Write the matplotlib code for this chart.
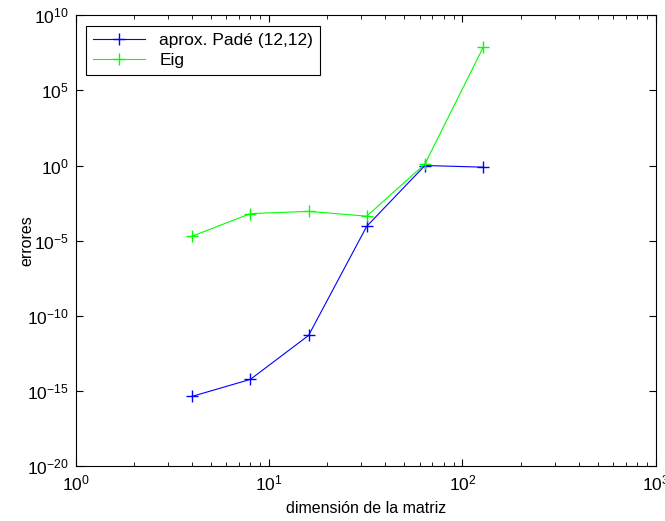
import numpy as np
import matplotlib
matplotlib.use('Agg')
import matplotlib.pyplot as plt
from matplotlib.ticker import LogLocator, NullLocator, FixedLocator

plt.rcParams['font.family'] = ['Liberation Sans', 'DejaVu Sans']
plt.rcParams['mathtext.fontset'] = 'custom'
plt.rcParams['mathtext.rm'] = 'Liberation Sans'

# Data
n = [4, 8, 16, 32, 64, 128]
err_pade = [10**-15.35, 10**-14.22, 10**-11.3, 10**-4.04, 10**0.0, 10**-0.11]
err_eig = [10**-4.7, 10**-3.2, 10**-3.05, 10**-3.37, 10**0.1, 10**7.85]

fig = plt.figure(figsize=(6.65, 5.21), dpi=100)
ax = fig.add_axes([0.114, 0.105, 0.872, 0.866])

ax.loglog(n, err_pade, color='#0000ff', marker='+', markersize=9, lw=0.8,
          mew=1.0, label='aprox. Padé (12,12)')
ax.loglog(n, err_eig, color='#00ff00', marker='+', markersize=9, lw=0.8,
          mew=1.0, label='Eig')

ax.set_xlim(1, 1000)
ax.set_ylim(1e-20, 1e10)
ax.yaxis.set_major_locator(FixedLocator([10.0**k for k in range(-20, 11, 5)]))
ax.yaxis.set_minor_locator(NullLocator())
ax.xaxis.set_major_locator(FixedLocator([1, 10, 100, 1000]))
ax.xaxis.set_minor_locator(LogLocator(base=10, subs=np.arange(2, 10), numticks=20))

ax.tick_params(which='both', direction='in', top=True, right=True, labelsize=12.5)
ax.tick_params(which='major', length=5, pad=5)
ax.tick_params(which='minor', length=3)

ax.set_xlabel('dimensión de la matriz', fontsize=11.5, labelpad=6)
ax.set_ylabel('errores', fontsize=11.5, labelpad=-5)

leg = ax.legend(loc='upper left', fontsize=12.5, fancybox=False, edgecolor='black',
                framealpha=1, handlelength=3, borderaxespad=0.6, labelspacing=0.3)
leg.get_frame().set_linewidth(0.8)

fig.savefig('out.png', dpi=100)
